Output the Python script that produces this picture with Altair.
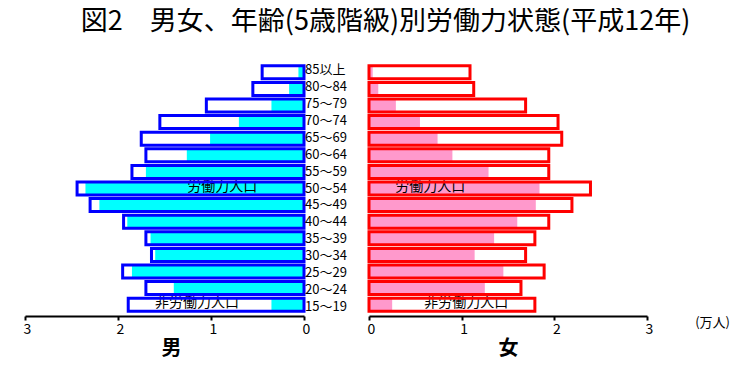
import altair as alt
import pandas as pd

FONT = "Noto Sans CJK JP"

ages = ["85以上", "80～84", "75～79", "70～74", "65～69", "60～64", "55～59", "50～54",
        "45～49", "40～44", "35～39", "30～34", "25～29", "20～24", "15～19"]
male_total = [0.45, 0.55, 1.05, 1.55, 1.75, 1.70, 1.85, 2.44, 2.30, 1.94, 1.70, 1.64, 1.95, 1.70, 1.89]
male_labor = [0.06, 0.16, 0.35, 0.70, 1.01, 1.26, 1.70, 2.35, 2.20, 1.90, 1.65, 1.60, 1.85, 1.40, 0.35]
female_total = [1.09, 1.13, 1.69, 2.04, 2.08, 1.94, 1.94, 2.39, 2.19, 1.94, 1.79, 1.69, 1.89, 1.64, 1.79]
female_labor = [0.04, 0.10, 0.29, 0.55, 0.74, 0.90, 1.29, 1.84, 1.80, 1.60, 1.35, 1.14, 1.45, 1.25, 0.25]

note_text = ["労働力人口", "非労働力人口"]
note_age = ["50～54", "15～19"]
note_male_x = [0.88, 1.15]
note_female_x = [0.66, 1.05]

tick_values = [0, 1, 2, 3]
title_text = "図2　男女、年齢(5歳階級)別労働力状態(平成12年)"
unit_text = ["(万人)"]

df = pd.DataFrame({
    "age": ages,
    "male_total": male_total,
    "male_labor": male_labor,
    "female_total": female_total,
    "female_labor": female_labor,
})
notes = pd.DataFrame({"text": note_text, "age": note_age,
                      "mx": note_male_x, "fx": note_female_x})
units = pd.DataFrame({"t": unit_text})

H = 253
yscale = alt.Scale(domain=ages, paddingInner=0.217, paddingOuter=0.23)
Y = alt.Y("age:N", sort=ages, scale=yscale, axis=None)


def make_axis(title, title_x=None):
    kw = dict(values=tick_values, title=title, grid=False, domainColor="black",
              domainWidth=2, tickColor="black", tickWidth=2, tickSize=4,
              labelFont=FONT, labelFontSize=14, labelColor="black",
              labelPadding=2, labelOffset=2, labelFlush=False,
              titleFont=FONT, titleFontSize=20, titleFontWeight="bold",
              titleColor="black", titlePadding=2, offset=1, format="d")
    if title_x is not None:
        kw["titleX"] = title_x
    return alt.Axis(**kw)


def side(total, labor, notex, fill, stroke, reverse, title, width, title_x=None):
    xs = alt.Scale(domain=[0, 3], reverse=reverse, nice=False, zero=True)
    ax = make_axis(title, title_x)
    base = alt.Chart(df)
    white = base.mark_bar(fill="white", strokeWidth=0).encode(
        x=alt.X(f"{total}:Q", scale=xs, axis=ax), y=Y)
    lab = base.mark_bar(fill=fill, strokeWidth=0).encode(
        x=alt.X(f"{labor}:Q", scale=xs, axis=ax), y=Y)
    txt = alt.Chart(notes).mark_text(font=FONT, fontSize=14, color="black",
                                     align="center", baseline="middle", dy=-2).encode(
        x=alt.X(f"{notex}:Q", scale=xs, axis=ax), y=Y, text="text:N")
    border = base.mark_bar(fillOpacity=0, stroke=stroke, strokeWidth=3,
                           strokeJoin="miter").encode(
        x=alt.X(f"{total}:Q", scale=xs, axis=ax), y=Y)
    return alt.layer(white, lab, txt, border).properties(width=width, height=H)


left = side("male_total", "male_labor", "mx", "#00FFFF", "#0000FF", True, "男", 279, 146)

middle = alt.Chart(df).mark_text(font=FONT, fontSize=13, color="black",
                                 align="left", baseline="middle").encode(
    y=Y, x=alt.value(1), text="age:N").properties(width=65, height=H)

right_bars = side("female_total", "female_labor", "fx", "#FF99CC", "#FF0000", False, "女", 278)
unit = alt.Chart(units).mark_text(font=FONT, fontSize=13, color="black",
                                  align="right", baseline="middle").encode(
    x=alt.value(361), y=alt.value(H + 8), text="t:N")
right = alt.layer(right_bars, unit).properties(width=278, height=H)

chart = alt.hconcat(left, middle, right, spacing=0, bounds="flush").properties(
    title=alt.TitleParams(title_text, font=FONT, fontSize=27, fontWeight="normal",
                          color="black", anchor="middle", dx=9, offset=26),
    padding={"left": 15, "top": 0, "right": 0, "bottom": 0},
    background="white",
).configure_view(strokeWidth=0)

chart.save("out.html", embed_options={"renderer": "svg", "actions": False})
